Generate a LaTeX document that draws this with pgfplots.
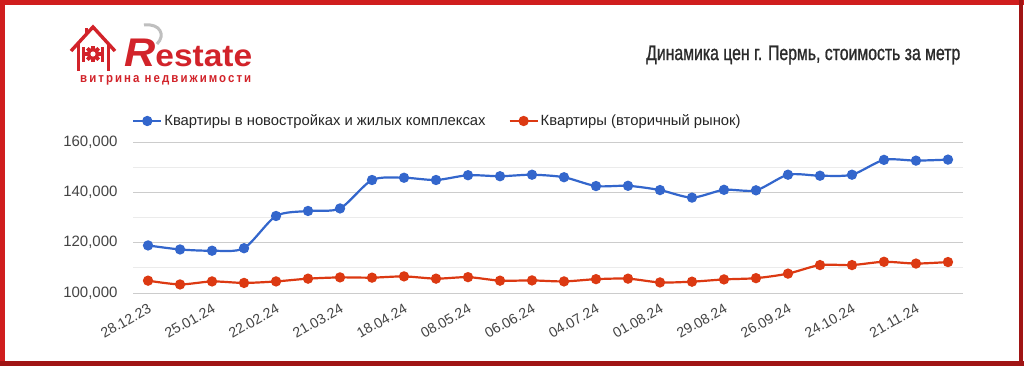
\documentclass[border=0pt]{standalone}
\usepackage{fontspec}
\setmainfont{Liberation Sans}
\usepackage{graphicx}
\usepackage{pgfplots}
\pgfplotsset{compat=1.18}
\definecolor{gblue}{HTML}{3366CC}
\definecolor{gred}{HTML}{DC3912}
\definecolor{logored}{HTML}{D2232A}
\definecolor{framered}{HTML}{D01E1E}
\definecolor{framedark}{HTML}{A01414}
\definecolor{tickgray}{HTML}{444444}
\definecolor{titlegray}{HTML}{2B2B2B}
\begin{document}
\begin{tikzpicture}[x=1bp,y=1bp]
\fill[white] (0,0) rectangle (1024,366);
% logo: house
\begin{scope}[logored, line width=3.4bp, line cap=butt, line join=miter]
\draw (71,315) -- (93,339) -- (115,315);
\draw (86.5,331) -- (86.5,338);
\draw (78.5,322) -- (78.5,295);
\draw (108.5,322) -- (108.5,295);
\draw[line width=2.4bp] (83.5,319) -- (83.5,304);
\draw[line width=2.4bp] (102.5,319) -- (102.5,304);
\end{scope}
\begin{scope}[shift={(93,312)}]
\foreach \a in {0,45,...,315}{\fill[logored,rotate=\a] (-1.8,4) rectangle (1.8,8);}
\fill[logored] (0,0) circle (6);
\fill[white] (0,0) circle (2.6);
\end{scope}
% swoosh
\draw[black!25, line width=3bp] (144,341) .. controls (160,343) and (166,331) .. (157,322);
% Restate
\node[anchor=base west, inner sep=0pt, text=logored] at (124,300)
 {\resizebox{128bp}{\height}{\fontsize{40bp}{42bp}\selectfont\bfseries\itshape R\fontsize{31bp}{33bp}\selectfont\upshape estate}};
\node[anchor=base west, inner sep=0pt, text=logored] at (80,284)
 {\resizebox{171bp}{\height}{\fontsize{13bp}{14bp}\selectfont\bfseries\addfontfeatures{LetterSpace=18}витрина недвижимости}};
% title
\node[anchor=west, inner sep=0pt, text=titlegray] at (646,311)
 {\resizebox{314bp}{\height}{\fontsize{21bp}{24bp}\selectfont\addfontfeatures{FakeBold=1.2}Динамика цен г. Пермь, стоимость за метр}};
\begin{axis}[
  at={(133bp,73bp)}, anchor=south west,
  width=830bp, height=151bp, scale only axis,
  xmin=-0.47, xmax=25.47, ymin=100000, ymax=160000,
  axis line style={draw=none},
  tick style={draw=none},
  xtick={0,2,...,24},
  xticklabels={28.12.23,25.01.24,22.02.24,21.03.24,18.04.24,08.05.24,06.06.24,04.07.24,01.08.24,29.08.24,26.09.24,24.10.24,21.11.24},
  xticklabel style={rotate=30, anchor=east, text=tickgray, font=\fontsize{14.2bp}{16bp}\selectfont, yshift=-13bp, xshift=-2bp},
  ytick={100000,120000,140000,160000},
  minor ytick={110000,130000,150000},
  ymajorgrids, yminorgrids,
  major grid style={draw=black!20, line width=0.9bp},
  minor grid style={draw=black!8, line width=0.9bp},
  scaled y ticks=false,
  yticklabel style={text=tickgray, font=\fontsize{15bp}{17bp}\selectfont, xshift=-12bp,
    /pgf/number format/.cd, fixed, 1000 sep={,}, assume math mode=true},
  legend columns=2,
  legend style={draw=none, fill=none, at={(axis description cs:0,1)}, anchor=west, yshift=21bp, xshift=-4bp,
    font=\fontsize{14.8bp}{17bp}\selectfont, text=black!85,
    /tikz/every even column/.append style={column sep=21bp}},
  legend image code/.code={\draw[mark repeat=2,mark phase=2,#1] plot coordinates {(0bp,0bp) (14bp,0bp) (28bp,0bp)};},
  every axis plot/.append style={line width=2.2bp, mark=*, mark size=4bp, smooth, tension=0.45},
  clip=false,
]
\addplot[color=gblue, mark options={fill=gblue, draw=gblue}] coordinates {
(0,118900) (1,117300) (2,116800) (3,117800) (4,130600) (5,132600) (6,133600) (7,144900)
(8,145800) (9,144900) (10,146800) (11,146400) (12,147000) (13,146000) (14,142500) (15,142600)
(16,140900) (17,137900) (18,141000) (19,140800) (20,147000) (21,146600) (22,147000) (23,152900)
(24,152600) (25,153000)};
\addlegendentry{Квартиры в новостройках и жилых комплексах}
\addplot[color=gred, mark options={fill=gred, draw=gred}] coordinates {
(0,104900) (1,103400) (2,104600) (3,104000) (4,104600) (5,105700) (6,106200) (7,106100)
(8,106600) (9,105700) (10,106300) (11,104900) (12,105000) (13,104600) (14,105500) (15,105700)
(16,104200) (17,104500) (18,105400) (19,105900) (20,107700) (21,111100) (22,111100) (23,112400)
(24,111700) (25,112300)};
\addlegendentry{Квартиры (вторичный рынок)}
\end{axis}
% frame
\fill[framered] (0,0) rectangle (5,366);
\fill[framered] (0,361) rectangle (1024,366);
\fill[framedark] (0,0) rectangle (1024,5);
\fill[framedark] (1019,0) rectangle (1023,366);
\end{tikzpicture}
\end{document}
